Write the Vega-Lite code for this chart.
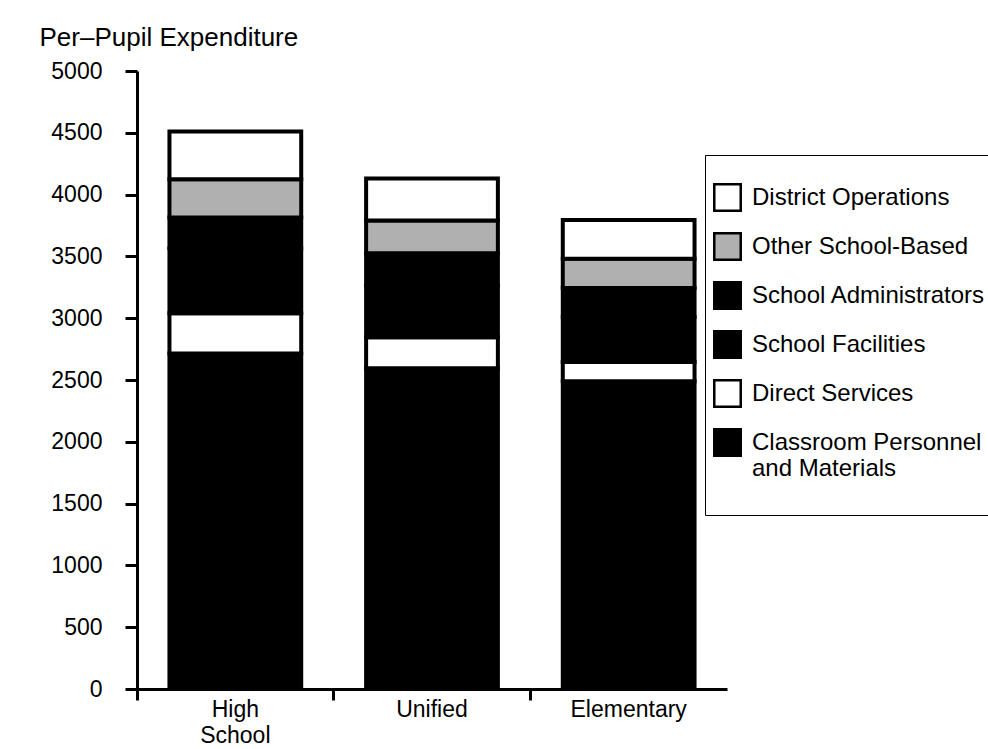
{
  "$schema": "https://vega.github.io/schema/vega-lite/v6.json",
  "width": 590,
  "height": 618,
  "autosize": {"type": "none"},
  "padding": {"left": 137, "top": 71, "right": 261, "bottom": 60},
  "background": "white",
  "config": {
    "view": {"stroke": null},
    "font": "Liberation Sans",
    "axis": {
      "domainColor": "black",
      "domainWidth": 3,
      "tickColor": "black",
      "tickWidth": 3,
      "labelColor": "black",
      "titleColor": "black",
      "grid": false,
      "labelFont": "Liberation Sans",
      "titleFont": "Liberation Sans"
    },
    "legend": {"labelFont": "Liberation Sans", "titleFont": "Liberation Sans"}
  },
  "data": {
    "values": [
      {"school": "High School", "component": "Classroom Personnel and Materials", "amount": 2715},
      {"school": "High School", "component": "Direct Services", "amount": 325},
      {"school": "High School", "component": "School Facilities", "amount": 525},
      {"school": "High School", "component": "School Administrators", "amount": 250},
      {"school": "High School", "component": "Other School-Based", "amount": 310},
      {"school": "High School", "component": "District Operations", "amount": 385},
      {"school": "Unified", "component": "Classroom Personnel and Materials", "amount": 2595},
      {"school": "Unified", "component": "Direct Services", "amount": 250},
      {"school": "Unified", "component": "School Facilities", "amount": 420},
      {"school": "Unified", "component": "School Administrators", "amount": 260},
      {"school": "Unified", "component": "Other School-Based", "amount": 265},
      {"school": "Unified", "component": "District Operations", "amount": 340},
      {"school": "Elementary", "component": "Classroom Personnel and Materials", "amount": 2490},
      {"school": "Elementary", "component": "Direct Services", "amount": 155},
      {"school": "Elementary", "component": "School Facilities", "amount": 365},
      {"school": "Elementary", "component": "School Administrators", "amount": 235},
      {"school": "Elementary", "component": "Other School-Based", "amount": 235},
      {"school": "Elementary", "component": "District Operations", "amount": 315}
    ]
  },
  "transform": [
    {"calculate": "datum.component == 'Classroom Personnel and Materials' ? 0 : datum.component == 'Direct Services' ? 1 : datum.component == 'School Facilities' ? 2 : datum.component == 'School Administrators' ? 3 : datum.component == 'Other School-Based' ? 4 : 5", "as": "stackOrder"}
  ],
  "mark": {"type": "bar", "width": {"band": 0.67}, "stroke": "black", "strokeWidth": 4},
  "encoding": {
    "x": {
      "field": "school",
      "type": "nominal",
      "sort": ["High School", "Unified", "Elementary"],
      "scale": {"paddingInner": 0, "paddingOuter": 0},
      "axis": {
        "title": null,
        "bandPosition": 0,
        "tickSize": 11,
        "labelPadding": -2,
        "labelFontSize": 23,
        "labelLineHeight": 26,
        "labelAngle": 0,
        "labelExpr": "datum.label == 'High School' ? ['High', 'School'] : datum.label"
      }
    },
    "y": {
      "field": "amount",
      "type": "quantitative",
      "stack": "zero",
      "scale": {"domain": [0, 5000], "nice": false},
      "axis": {
        "title": "Per–Pupil Expenditure",
        "values": [0, 500, 1000, 1500, 2000, 2500, 3000, 3500, 4000, 4500, 5000],
        "format": "d",
        "tickSize": 12,
        "labelPadding": 23,
        "labelFontSize": 23,
        "titleFontSize": 26,
        "titleFontWeight": "normal",
        "titleAngle": 0,
        "titleAlign": "left",
        "titleBaseline": "alphabetic",
        "titleX": -98,
        "titleY": -26
      }
    },
    "color": {
      "field": "component",
      "type": "nominal",
      "scale": {
        "domain": ["District Operations", "Other School-Based", "School Administrators", "School Facilities", "Direct Services", "Classroom Personnel and Materials"],
        "range": ["#ffffff", "#b0b0b0", "#000000", "#000000", "#ffffff", "#000000"]
      },
      "legend": {
        "title": " ",
        "titleFontSize": 12,
        "titlePadding": 8,
        "orient": "none",
        "legendX": 568,
        "legendY": 84,
        "fillColor": "white",
        "strokeColor": "black",
        "padding": 8,
        "rowPadding": 12,
        "symbolType": "square",
        "symbolSize": 700,
        "symbolStrokeColor": "black",
        "symbolStrokeWidth": 2.5,
        "labelFontSize": 24,
        "labelLineHeight": 27,
        "labelColor": "black",
        "labelLimit": 400,
        "labelOffset": 10,
        "labelExpr": "datum.label == 'Classroom Personnel and Materials' ? ['Classroom Personnel', 'and Materials', ' '] : datum.label"
      }
    },
    "order": {"field": "stackOrder", "type": "quantitative", "sort": "ascending"}
  }
}
